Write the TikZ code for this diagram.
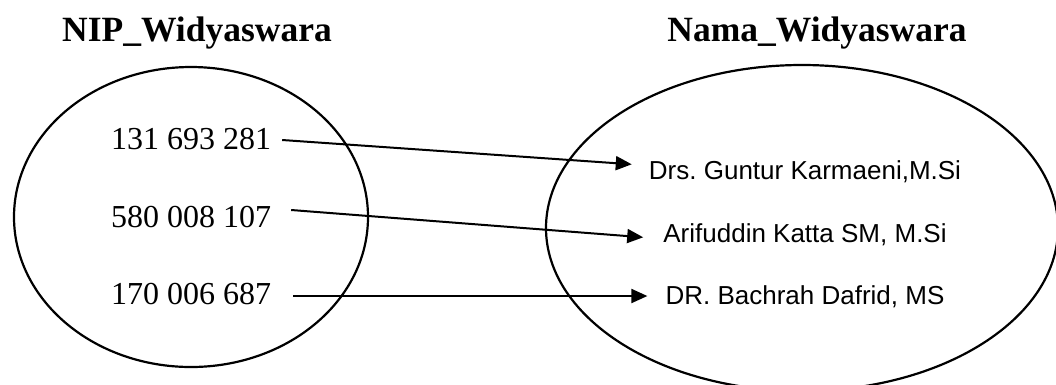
\documentclass[tikz,border=0pt]{standalone}
\usepackage{fontspec}
\setmainfont{Liberation Serif}
\newfontfamily\namefont{Liberation Sans}
\usetikzlibrary{arrows.meta,shapes.geometric}
\frenchspacing
\begin{document}
\begin{tikzpicture}[x=1pt,y=-1pt,
  settitle/.style={font=\fontsize{35.5}{42}\selectfont\bfseries, inner sep=0pt, anchor=base},
  nip/.style={font=\fontsize{32}{38}\selectfont, inner sep=0pt, anchor=base},
  nama/.style={font=\namefont\fontsize{26}{30}\selectfont, inner sep=0pt, anchor=base},
  setshape/.style={draw, ellipse, line width=2.2pt, inner sep=0pt},
  link/.style={line width=2pt, -{Triangle[length=16pt,width=14pt]}}]
\useasboundingbox[fill=white] (0,0) rectangle (1056,384);
\clip (0,0) rectangle (1056,384);
\node[settitle] (t1) at (197,41.7) {NIP\_Widyaswara};
\node[settitle] (t2) at (817,41.7) {Nama\_Widyaswara};
\node[setshape, minimum width=354pt, minimum height=300pt] (A) at (191,217) {};
\node[setshape, minimum width=512pt, minimum height=326pt] (B) at (802,228) {};
\node[nip] (n1) at (191,149.5) {131 693 281};
\node[nip] (n2) at (191,227) {580 008 107};
\node[nip] (n3) at (191,304) {170 006 687};
\node[nama] (m1) at (805,179.3) {Drs. Guntur Karmaeni,M.Si};
\node[nama] (m2) at (805,242.7) {Arifuddin Katta SM, M.Si};
\node[nama] (m3) at (805,304) {DR. Bachrah Dafrid, MS};
\draw[link] ([xshift=11pt,yshift=9.5pt]n1.base east) -- ([xshift=-17pt,yshift=15pt]m1.base west);
\draw[link] ([xshift=20pt,yshift=17pt]n2.base east) -- ([xshift=-20pt,yshift=5.4pt]m2.base west);
\draw[link] ([xshift=22pt,yshift=8pt]n3.base east) -- ([xshift=-18pt,yshift=8pt]m3.base west);
\end{tikzpicture}
\end{document}
